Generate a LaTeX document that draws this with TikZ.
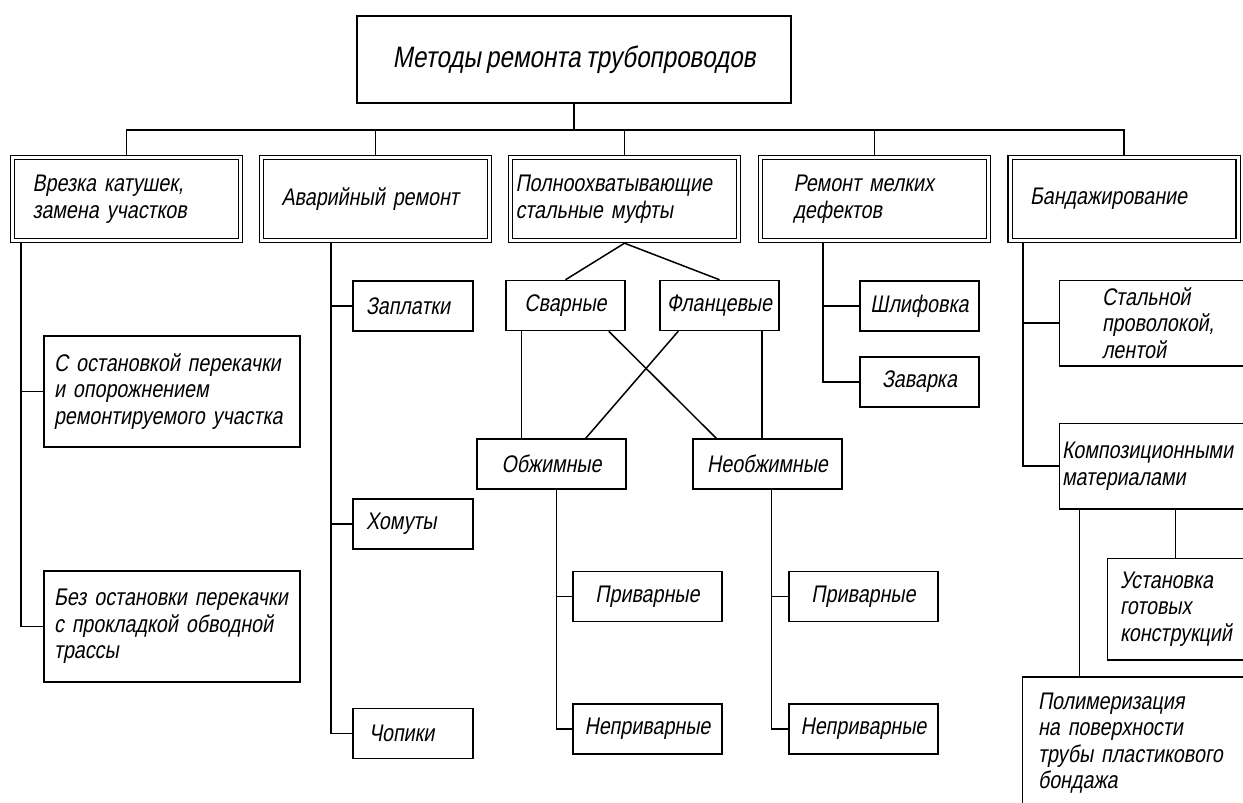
\documentclass[tikz,border=0pt]{standalone}
\usepackage{fontspec}
\newfontfamily\gost{Liberation Sans}[FakeStretch=0.82,FakeSlant=0.18,WordSpace=0.75]
\usepackage{tikz}

\begin{document}
\begin{tikzpicture}[x=1pt, y=-1pt, line width=1.5pt,
    font=\gost\fontsize{24}{26.5}\selectfont,
    head/.style={draw, minimum width=434, minimum height=87, font=\gost\fontsize{29.5}{32}\selectfont},
    main/.style={draw, double, double distance=3pt, line width=1.2pt, outer sep=2.7pt,
        minimum height=83, inner xsep=20pt, text width=188pt, align=left},
    item/.style={draw, minimum height=50, align=center},
    side/.style={draw, align=left},
    cut/.style={align=left}]
    \clip (0,0) rectangle (1243,803);
    \node[head] (top) at (574,59.5) {Методы ремонта трубопроводов};
    \node[main] (b1) at (126.5,199) {Врезка катушек,\\замена участков};
    \node[main] (b2) at (375.5,199) {Аварийный ремонт};
    \node[main, inner xsep=5pt, text width=218pt] (b3) at (624.5,199) {Полноохватывающие\\стальные муфты};
    \node[main, inner xsep=33pt, text width=162pt] (b4) at (874.5,199) {Ремонт мелких\\дефектов};
    \node[main] (b5) at (1124,199) {Бандажирование};
    \coordinate (bus) at (574,130);
    \draw (top.south) -- (bus);
    \draw (b1.north) |- (bus) -| (b5.north);
    \foreach \n in {b2,b3,b4}
        \draw (\n.north) -- (\n.north |- bus);
    % врезка
    \node[side, minimum height=111, inner xsep=10pt, text width=236pt] (s1) at (172,391.5) {С остановкой перекачки\\и опорожнением\\ремонтируемого участка};
    \node[side, minimum height=111, inner xsep=10pt, text width=236pt] (s2) at (172,626.5) {Без остановки перекачки\\с прокладкой обводной\\трассы};
    \coordinate (v1) at ([xshift=11.2]b1.south west);
    \draw (v1) |- (s2.west);
    \draw (v1 |- s1.west) -- (s1.west);
    % аварийный
    \node[side, minimum height=50, inner xsep=13pt, text width=94pt] (a1) at (413,306) {Заплатки};
    \node[side, minimum height=50, inner xsep=13pt, text width=94pt] (a2) at (413,524) {Хомуты};
    \node[side, minimum height=50, inner xsep=16pt, text width=88pt] (a3) at (413,733.5) {Чопики};
    \coordinate (v2) at ([xshift=72.2]b2.south west);
    \draw (v2) |- (a3.west);
    \draw (v2 |- a1.west) -- (a1.west);
    \draw (v2 |- a2.west) -- (a2.west);
    % муфты
    \node[item, minimum width=119] (m1) at (565.5,305.5) {Сварные};
    \node[item, minimum width=119, inner xsep=2pt] (m2) at (719.5,305.5) {Фланцевые};
    \node[item, minimum width=149] (m3) at (551.5,464) {Обжимные};
    \node[item, minimum width=149] (m4) at (767.5,464) {Необжимные};
    \draw (b3.south) -- (m1.north);
    \draw (b3.south) -- (m2.north);
    \draw ([xshift=16]m1.south west) coordinate (x1) -- (x1 |- m3.north);
    \draw ([xshift=-17]m1.south east) -- ([xshift=24]m4.north west);
    \draw ([xshift=19]m2.south west) -- ([xshift=-41]m3.north east);
    \draw ([xshift=-18]m2.south east) coordinate (x2) -- (x2 |- m4.north);
    \node[item, minimum width=149] (p1) at (647.5,596.5) {Приварные};
    \node[item, minimum width=149] (p2) at (647.5,729) {Неприварные};
    \node[item, minimum width=149] (p3) at (863.5,596.5) {Приварные};
    \node[item, minimum width=149] (p4) at (863.5,729) {Неприварные};
    \coordinate (v3) at ([xshift=80]m3.south west);
    \draw (v3) |- (p2.west);
    \draw (v3 |- p1.west) -- (p1.west);
    \coordinate (v4) at ([xshift=79]m4.south west);
    \draw (v4) |- (p4.west);
    \draw (v4 |- p3.west) -- (p3.west);
    % мелкие дефекты
    \node[item, minimum width=119] (r1) at (919.5,306) {Шлифовка};
    \node[item, minimum width=119] (r2) at (919.5,382) {Заварка};
    \coordinate (v5) at ([xshift=65.2]b4.south west);
    \draw (v5) |- (r2.west);
    \draw (v5 |- r1.west) -- (r1.west);
    % бандажирование, правый край обрезан
    \node[cut, minimum height=84, inner xsep=42pt, text width=156pt] (k1) at (1180,323) {Стальной\\проволокой,\\лентой};
    \node[cut, minimum height=84, inner xsep=2pt, text width=236pt] (k2) at (1180,466) {Композиционными\\материалами};
    \node[cut, minimum height=100, inner xsep=12pt, text width=168pt] (k3) at (1204,609) {Установка\\готовых\\конструкций};
    \node[cut, anchor=north, inner xsep=15pt, inner ysep=15pt, text width=247pt] (k4) at (1161.5,677) {Полимеризация\\на поверхности\\трубы пластикового\\бондажа};
    \foreach \n in {k1,k2,k3}
        \draw (\n.north east) -- (\n.north west) -- (\n.south west) -- (\n.south east);
    \draw (k4.north east) -- (k4.north west) -- (k4.south west);
    \coordinate (v6) at ([xshift=15.7]b5.south west);
    \draw (v6) |- (k2.west);
    \draw (v6 |- k1.west) -- (k1.west);
    \draw ([xshift=20]k2.south west) coordinate (x3) -- (x3 |- k4.north);
    \draw ([xshift=116]k2.south west) coordinate (x4) -- (x4 |- k3.north);
\end{tikzpicture}
\end{document}
